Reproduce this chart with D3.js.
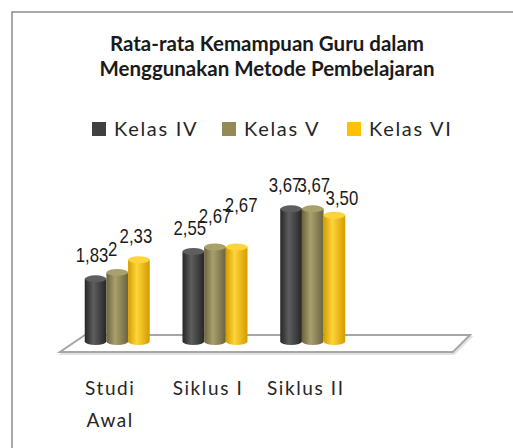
<!DOCTYPE html>
<html>
<head>
<meta charset="utf-8">
<script src="https://cdn.jsdelivr.net/npm/d3@7"></script>
<style>
  html, body { margin: 0; padding: 0; background: #fff; }
  svg { display: block; }
</style>
</head>
<body>
<div id="chart"></div>
<script>
// chart data
const categories = ["Studi Awal", "Siklus I", "Siklus II"];
const seriesNames = ["Kelas IV", "Kelas V", "Kelas VI"];
const kelasIV = [1.83, 2.55, 3.67];
const kelasV = [2, 2.67, 3.67];
const kelasVI = [2.33, 2.67, 3.50];
const seriesValues = [kelasIV, kelasV, kelasVI];

const titleLines = ["Rata-rata Kemampuan Guru dalam", "Menggunakan Metode Pembelajaran"];

const W = 513, H = 448;
const colors = ["#404040", "#948a54", "#ffc000"];
const shades = [
    { edge: "#262626", mid: "#5e5e5e" },
    { edge: "#6a6340", mid: "#aaa06c" },
    { edge: "#d49c00", mid: "#ffd43a" }
];

// hand-placed label nudges as in the original chart [series][category] -> [dx, dy]
const labelNudge = [
    [[-3.5, 0], [-3.5, 0], [-6, 0]],
    [[-4.5, 0], [0, -7], [1, 0]],
    [[-3, 0], [4.5, -18], [7.5, 6]]
];

const svg = d3.select("#chart").append("svg")
    .attr("width", W).attr("height", H);

const defs = svg.append("defs");
shades.forEach((s, i) => {
    const g = defs.append("linearGradient")
        .attr("id", "cyl" + i)
        .attr("x1", "0%").attr("x2", "100%").attr("y1", "0%").attr("y2", "0%");
    g.append("stop").attr("offset", "0%").attr("stop-color", s.edge);
    g.append("stop").attr("offset", "40%").attr("stop-color", s.mid);
    g.append("stop").attr("offset", "100%").attr("stop-color", s.edge);
});

// outer border (runs off the right and bottom edge)
svg.append("rect")
    .attr("x", 12).attr("y", 12)
    .attr("width", W + 20).attr("height", H + 20)
    .attr("fill", "none")
    .attr("stroke", "#8c8c8c")
    .attr("stroke-width", 1.5);

// title
svg.append("text")
    .attr("text-anchor", "middle")
    .attr("font-family", "Lato, 'Open Sans', sans-serif")
    .attr("font-weight", "bold")
    .attr("font-size", 20.5)
    .attr("fill", "#1a1a1a")
    .selectAll("tspan")
    .data(titleLines)
    .enter().append("tspan")
    .attr("x", 267)
    .attr("y", (d, i) => 51 + i * 25)
    .text(d => d);

// legend
const legendX = [92, 222, 347];
const legend = svg.append("g");
seriesNames.forEach((name, i) => {
    legend.append("rect")
        .attr("x", legendX[i]).attr("y", 122)
        .attr("width", 14).attr("height", 14)
        .attr("fill", colors[i]);
    legend.append("text")
        .attr("x", legendX[i] + 22).attr("y", 136)
        .attr("font-family", "Lato, sans-serif")
        .attr("font-size", 20)
        .attr("letter-spacing", 1.7)
        .attr("fill", "#262626")
        .text(name);
});

// scales
const y = d3.scaleLinear().domain([0, 4]).range([345, 192.8]);
const x0 = d3.scaleBand().domain(categories).range([52, 378]).padding(0.335);
const x1 = d3.scaleBand().domain(seriesNames).range([0, x0.bandwidth()]).padding(0);

// floor
const floorPts = [[85, 335], [470, 335], [453, 352], [60, 352]];
svg.append("polygon")
    .attr("points", floorPts.map(p => [p[0] + 1, p[1] + 2].join(",")).join(" "))
    .attr("fill", "none")
    .attr("stroke", "#e2e2e2")
    .attr("stroke-width", 2);
svg.append("polygon")
    .attr("points", floorPts.map(p => p.join(",")).join(" "))
    .attr("fill", "#fff")
    .attr("stroke", "#a6a6a6")
    .attr("stroke-width", 2);

// cylinders
const ry = 3.5;
const groups = svg.append("g").selectAll("g")
    .data(categories)
    .enter().append("g")
    .attr("transform", c => `translate(${x0(c)},0)`);

groups.each(function(c, ci) {
    const g = d3.select(this);
    seriesNames.forEach((s, si) => {
        const v = seriesValues[si][ci];
        const bx = x1(s), bw = x1.bandwidth();
        const top = y(v) + ry, bottom = y(0) - ry;
        g.append("path")
            .attr("d", `M${bx},${top} L${bx},${bottom} A${bw / 2},${ry} 0 0 0 ${bx + bw},${bottom} L${bx + bw},${top} Z`)
            .attr("fill", `url(#cyl${si})`);
        g.append("ellipse")
            .attr("cx", bx + bw / 2).attr("cy", top)
            .attr("rx", bw / 2).attr("ry", ry)
            .attr("fill", shades[si].mid);
    });
});

// data labels (narrow digits, squeezed horizontally)
const fmt = v => (Number.isInteger(v) ? String(v) : v.toFixed(2).replace(".", ","));
groups.each(function(c, ci) {
    const g = d3.select(this);
    seriesNames.forEach((s, si) => {
        const v = seriesValues[si][ci];
        const [dx, dy] = labelNudge[si][ci];
        const lx = x1(s) + x1.bandwidth() / 2 + dx;
        g.append("text")
            .attr("transform", `translate(${lx},${y(v) - 13 + dy}) scale(0.84,1)`)
            .attr("text-anchor", "middle")
            .attr("font-family", "'Liberation Sans', Arial, sans-serif")
            .attr("font-size", 20)
            .attr("fill", "#1a1a1a")
            .text(fmt(v));
    });
});

// category labels
const catLines = { "Studi Awal": ["Studi", "Awal"] };
categories.forEach(c => {
    const lines = catLines[c] || [c];
    svg.append("text")
        .attr("text-anchor", "middle")
        .attr("font-family", "Lato, sans-serif")
        .attr("font-size", 19)
        .attr("letter-spacing", 1.6)
        .attr("fill", "#262626")
        .selectAll("tspan")
        .data(lines)
        .enter().append("tspan")
        .attr("x", x0(c) + x0.bandwidth() / 2 - 7)
        .attr("y", (d, i) => 395 + i * 32)
        .text(d => d);
});
</script>
</body>
</html>
